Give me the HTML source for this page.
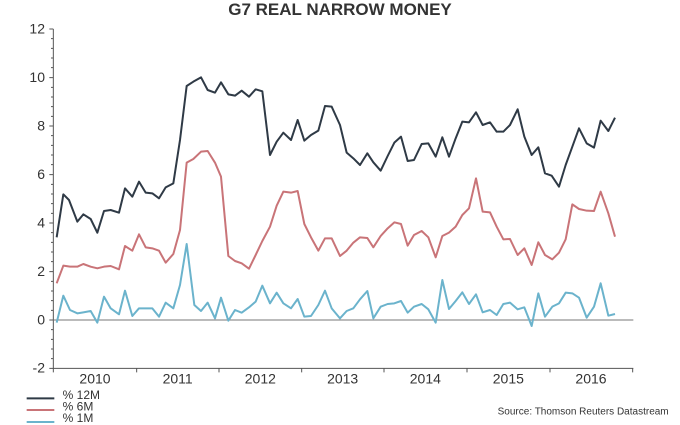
<!DOCTYPE html>
<html><head><style>
body{margin:0;background:#fff;}
svg{display:block;}
text{font-family:"Liberation Sans",Arial,sans-serif;fill:#333;}
</style></head><body>
<svg width="680" height="425" viewBox="0 0 2040 1275" xmlns="http://www.w3.org/2000/svg">
<text x="1020" y="45" font-size="51" font-weight="bold" text-anchor="middle" fill="#333">G7 REAL NARROW MONEY</text>
<g font-size="42" text-anchor="end">
<text x="135" y="100">12</text>
<text x="135" y="246">10</text>
<text x="135" y="391">8</text>
<text x="135" y="537">6</text>
<text x="135" y="682">4</text>
<text x="135" y="828">2</text>
<text x="135" y="973">0</text>
<text x="135" y="1118">-2</text>
</g>
<g stroke="#555" stroke-width="3">
<line x1="160" y1="87" x2="160" y2="1107"/>
<line x1="160" y1="1105" x2="1900" y2="1105"/>
<line x1="160" y1="960" x2="1900" y2="960" stroke="#777"/>
</g>
<g stroke="#555" stroke-width="3" id="yt">
<path d="M148 87h12M148 233h12M148 378h12M148 524h12M148 669h12M148 815h12M148 960h12M148 1105h12"/>
<path d="M153 116h7M153 145h7M153 174h7M153 203h7M153 262h7M153 291h7M153 320h7M153 349h7M153 407h7M153 436h7M153 465h7M153 494h7M153 553h7M153 582h7M153 611h7M153 640h7M153 698h7M153 727h7M153 756h7M153 785h7M153 844h7M153 873h7M153 902h7M153 931h7M153 989h7M153 1018h7M153 1047h7M153 1076h7"/>
<path d="M160 1105v12M410 1105v12M657 1105v12M905 1105v12M1152 1105v12M1401 1105v12M1650 1105v12M1898 1105v12"/>
</g>
<g font-size="42" text-anchor="middle">
<text x="285" y="1150">2010</text>
<text x="533" y="1150">2011</text>
<text x="781" y="1150">2012</text>
<text x="1028" y="1150">2013</text>
<text x="1276" y="1150">2014</text>
<text x="1525" y="1150">2015</text>
<text x="1773" y="1150">2016</text>
</g>
<g fill="none" stroke-width="6" stroke-linejoin="round">
<polyline stroke="#2f3a46" points="170,712 190,583 207,600 232,665 250,643 272,657 292,698 312,633 332,630 357,638 375,565 397,590 417,545 437,578 457,580 477,595 497,562 520,550 540,420 560,258 580,245 603,232 623,270 645,278 663,247 685,283 705,287 725,272 747,290 767,268 787,274 810,465 830,425 850,398 873,420 893,360 913,422 933,405 955,392 975,318 995,320 1020,375 1040,458 1060,475 1080,495 1102,460 1120,487 1142,512 1163,468 1183,428 1203,410 1223,483 1242,480 1265,432 1285,430 1307,470 1327,412 1347,470 1367,415 1387,365 1407,367 1428,337 1448,375 1470,367 1490,395 1510,395 1530,375 1553,328 1573,410 1595,465 1615,442 1635,520 1655,527 1677,560 1697,495 1717,440 1737,385 1760,430 1782,443 1802,362 1825,393 1845,353"/>
<polyline stroke="#c97478" points="170,850 190,797 210,800 232,800 250,792 272,800 292,805 312,800 332,798 357,808 375,738 397,752 417,703 437,742 457,745 477,752 497,788 520,762 540,690 560,488 580,477 603,455 623,453 645,488 663,530 685,768 705,783 725,790 747,806 767,765 787,723 810,680 830,617 850,575 873,578 893,573 913,672 933,712 955,752 975,715 995,715 1020,768 1040,752 1060,728 1080,712 1102,714 1120,742 1142,708 1163,685 1183,667 1203,672 1223,737 1242,705 1265,693 1285,712 1307,772 1327,708 1347,698 1367,680 1387,645 1407,625 1428,535 1448,635 1470,637 1490,680 1510,718 1530,717 1553,765 1573,745 1595,795 1615,727 1635,765 1657,778 1677,758 1697,718 1717,613 1737,627 1760,632 1782,633 1802,575 1825,640 1845,710"/>
<polyline stroke="#6bb3cc" points="170,968 190,887 210,930 232,940 250,937 272,933 292,968 312,890 332,925 357,943 375,872 397,948 417,925 437,925 457,925 477,950 497,908 520,925 540,855 560,732 583,915 603,933 623,908 645,955 663,893 685,962 705,930 725,938 747,922 767,905 787,857 810,910 830,878 850,910 873,925 893,897 913,950 933,948 955,915 975,872 995,925 1020,955 1040,933 1060,925 1080,898 1102,873 1120,955 1142,920 1163,912 1183,910 1203,903 1223,938 1242,920 1265,912 1285,928 1307,968 1327,840 1347,927 1367,903 1387,877 1407,912 1428,883 1448,937 1470,930 1490,945 1510,912 1530,908 1553,928 1573,922 1595,978 1615,880 1635,950 1657,920 1677,910 1697,878 1717,880 1737,893 1760,953 1782,920 1802,850 1825,947 1845,942"/>
</g>
<g stroke-width="6">
<line x1="80" y1="1195" x2="163" y2="1195" stroke="#2f3a46"/>
<line x1="80" y1="1230" x2="163" y2="1230" stroke="#c97478"/>
<line x1="80" y1="1266" x2="163" y2="1266" stroke="#6bb3cc"/>
</g>
<g font-size="36">
<text x="188" y="1197">% 12M</text>
<text x="188" y="1232">% 6M</text>
<text x="188" y="1266">% 1M</text>
</g>
<text x="2006" y="1244" font-size="30" text-anchor="end" fill="#444">Source: Thomson Reuters Datastream</text>
</svg>
</body></html>
